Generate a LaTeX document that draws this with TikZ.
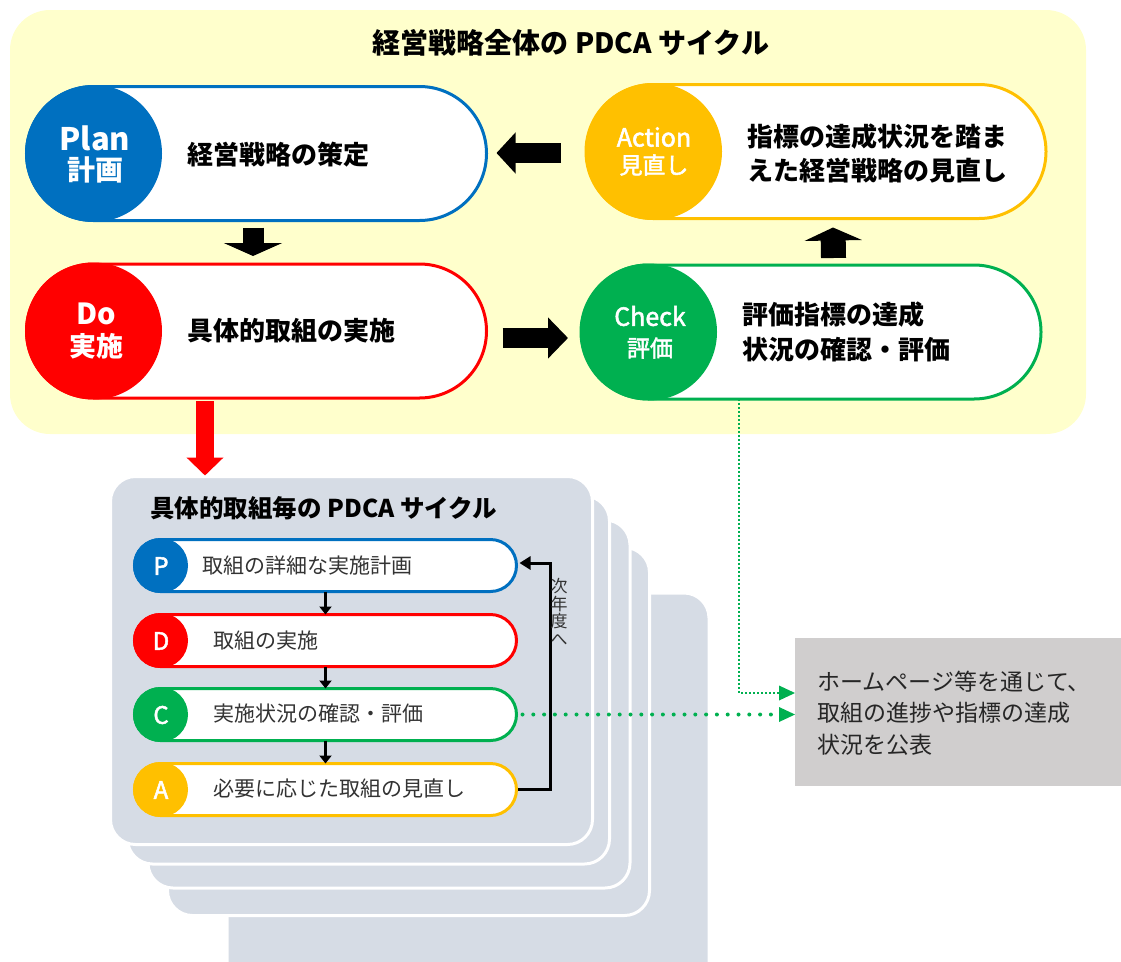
\documentclass[tikz,border=0pt]{standalone}
\usepackage{fontspec}
\setmainfont{Noto Sans CJK JP}
\newfontfamily\medfont[FakeBold=2]{Noto Sans CJK JP}
\usetikzlibrary{arrows.meta}
\definecolor{cblue}{HTML}{0070C0}
\definecolor{cred}{HTML}{FF0000}
\definecolor{cgreen}{HTML}{00B050}
\definecolor{cyel}{HTML}{FFC000}
\definecolor{bgyel}{HTML}{FFFFCC}
\definecolor{cardfill}{HTML}{D6DCE5}
\definecolor{boxgray}{HTML}{D0CECE}
\definecolor{txtdark}{HTML}{262626}
\definecolor{txtgray}{HTML}{333333}
\newcommand{\fs}[1]{\fontsize{#1}{#1}\selectfont}
\begin{document}
\begin{tikzpicture}[x=1pt,y=-1pt,
  bigpill/.style={draw, line width=3pt, fill=white, rounded corners=67pt,
    minimum width=460pt, minimum height=134pt, inner sep=0pt, outer sep=0pt},
  bigcirc/.style={circle, minimum size=137pt, inner sep=0pt, outer sep=0pt},
  smallpill/.style={draw, line width=3pt, fill=white, rounded corners=26pt,
    minimum width=382pt, minimum height=52pt, inner sep=0pt, outer sep=0pt},
  smallcirc/.style={circle, minimum size=55pt, inner sep=0pt, outer sep=0pt},
  card/.style={fill=cardfill, draw=white, line width=3pt, rounded corners=25pt,
    minimum width=482pt, minimum height=368pt, inner sep=0pt, outer sep=0pt},
  ctext/.style={text=white, inner sep=0pt},
  ptext/.style={anchor=west, inner sep=0pt, font=\bfseries\fs{26}},
  stext/.style={anchor=west, inner sep=0pt, text=txtgray, font=\fs{21}},
  sarr/.style={line width=2.5pt, -{Triangle[length=8pt, width=12pt]}},
  gdotthick/.style={cgreen, line width=4pt, line cap=round, dash pattern=on 0pt off 10.8pt,
    shorten >=14pt},
  gdotthin/.style={cgreen, line width=2pt, dash pattern=on 2pt off 2pt}
]
\useasboundingbox (0,0) rectangle (1121,961);

% background panel
\node[fill=bgyel, rounded corners=40pt, minimum width=1076pt, minimum height=424pt,
  inner sep=0pt, outer sep=0pt] (bg) at (548,222) {};
\node[font=\bfseries\fs{28}] (title) at (571,43) {経営戦略全体の PDCA サイクル};

% Plan
\node[bigpill, draw=cblue] (plan) at (256.5,153.5) {};
\node[bigcirc, fill=cblue] (planc) at (93.5,153.5) {};
\node[ctext, font=\bfseries\fs{31}] (planl1) at (95,138) {Plan};
\node[ctext, font=\bfseries\fs{28}] (planl2) at (95,170) {計画};
\node[ptext] (plant) at (187,155) {経営戦略の策定};

% Do
\node[bigpill, draw=cred] (do) at (256.5,331) {};
\node[bigcirc, fill=cred] (doc) at (93.5,331) {};
\node[ctext, font=\bfseries\fs{29}] (dol1) at (96,314) {Do};
\node[ctext, font=\bfseries\fs{27}] (dol2) at (96,346) {実施};
\node[ptext] (dot) at (187,331) {具体的取組の実施};

% Action
\node[bigpill, draw=cyel] (act) at (816,151.5) {};
\node[bigcirc, fill=cyel] (actc) at (653.5,151.5) {};
\node[ctext, font=\medfont\fs{25}] (actl1) at (654,137) {Action};
\node[ctext, font=\medfont\fs{23}] (actl2) at (654,165) {見直し};
\node[ptext] (actt1) at (747,137) {指標の達成状況を踏ま};
\node[ptext] (actt2) at (747,171) {えた経営戦略の見直し};

% Check
\node[bigpill, draw=cgreen] (chk) at (811,332) {};
\node[bigcirc, fill=cgreen] (chkc) at (648.5,332) {};
\node[ctext, font=\medfont\fs{25}] (chkl1) at (650,316) {Check};
\node[ctext, font=\medfont\fs{23}] (chkl2) at (650,348) {評価};
\node[ptext] (chkt1) at (742,315) {評価指標の達成};
\node[ptext] (chkt2) at (742,350) {状況の確認・評価};

% block arrows
\draw[line width=21pt, -{Triangle[length=13pt, width=58pt]}]
  ([shift={(-3.5,7)}]plan.south) -- ([shift={(-3.5,-8)}]do.north);
\draw[line width=20pt, -{Triangle[length=19pt, width=40pt]}]
  ([shift={(-25,1.5)}]act.west) -- ([shift={(10,-0.5)}]plan.east);
\draw[line width=20pt, -{Triangle[length=20pt, width=40pt]}]
  ([shift={(16,7)}]do.east) -- ([shift={(-13,6)}]chk.west);
\draw[line width=25pt, -{Triangle[length=13pt, width=57pt]}]
  ([shift={(22.5,-7)}]chk.north) -- ([shift={(17,9)}]act.south);

% stacked cards
\node[card, minimum height=420pt] (card5) at (468,803) {};
\node[card] (card4) at (408.5,731.5) {};
\node[card] (card3) at (389,704) {};
\node[card] (card2) at (368.5,680) {};
\node[card] (card1) at (351.5,660.5) {};
\node[anchor=west, inner sep=0pt, font=\bfseries\fs{24.5}] (cardtitle) at (150,508)
  {具体的取組毎の PDCA サイクル};

% red arrow into the cards
\draw[cred, line width=18pt, -{Triangle[length=18pt, width=36pt]}]
  ([shift={(-51.5,3)}]do.south) -- ([shift={(-146.5,-1)}]card1.north);

% small pills
\node[smallpill, draw=cblue] (pp) at (325.5,565.5) {};
\node[smallcirc, fill=cblue] (ppc) at (160.5,565.5) {};
\node[ctext, font=\medfont\fs{24}] (ppl) at (161,566) {P};
\node[stext] (ppt) at (202,566) {取組の詳細な実施計画};

\node[smallpill, draw=cred] (dp) at (325.5,640.5) {};
\node[smallcirc, fill=cred] (dpc) at (160.5,640.5) {};
\node[ctext, font=\medfont\fs{24}] (dpl) at (161,641) {D};
\node[stext] (dpt) at (213,641) {取組の実施};

\node[smallpill, draw=cgreen] (cp) at (325.5,714.5) {};
\node[smallcirc, fill=cgreen] (cpc) at (160.5,714.5) {};
\node[ctext, font=\medfont\fs{24}] (cpl) at (161,715) {C};
\node[stext] (cpt) at (213,714) {実施状況の確認・評価};

\node[smallpill, draw=cyel] (ap) at (325.5,789.5) {};
\node[smallcirc, fill=cyel] (apc) at (160.5,789.5) {};
\node[ctext, font=\medfont\fs{24}] (apl) at (161,790) {A};
\node[stext] (apt) at (213,788) {必要に応じた取組の見直し};

% small arrows
\draw[sarr] (pp.south) -- (dp.north);
\draw[sarr] (dp.south) -- (cp.north);
\draw[sarr] (cp.south) -- (ap.north);

% return loop
\coordinate (rtop) at (550,563);
\draw[line width=3pt, -{Triangle[length=11pt, width=13pt]}]
  ([xshift=1.5pt]ap.east) -| (rtop) -- ([xshift=3pt]pp.east |- rtop);
\node[align=center, inner sep=0pt, text=txtgray, font=\fontsize{17}{17.5}\selectfont]
  (nextyear) at (559,612) {次\\年\\度\\へ};

% gray box
\node[fill=boxgray, minimum width=330pt, minimum height=148pt, inner sep=0pt, outer sep=0pt]
  (gbox) at (960,712) {};
\node[anchor=west, inner sep=0pt, text=txtdark, font=\fs{23}] (gb1) at (817,682) {ホームページ等を通じて、};
\node[anchor=west, inner sep=0pt, text=txtdark, font=\fs{23}] (gb2) at (817,713) {取組の進捗や指標の達成};
\node[anchor=west, inner sep=0pt, text=txtdark, font=\fs{23}] (gb3) at (817,745) {状況を公表};

% green dotted connectors
\coordinate (vturn) at (739,693);
\draw[gdotthin] (chk.south -| vturn) -- (vturn) -- ([xshift=-16pt]gbox.west |- vturn);
\fill[cgreen] (gbox.west |- vturn) -- ++(-16,-7.5) -- ++(0,15) -- cycle;
\draw[gdotthick] ([xshift=6pt]cp.east) -- (gbox.west |- cp.east);
\fill[cgreen] (gbox.west |- cp.east) -- ++(-16,-7.5) -- ++(0,15) -- cycle;
\end{tikzpicture}
\end{document}
